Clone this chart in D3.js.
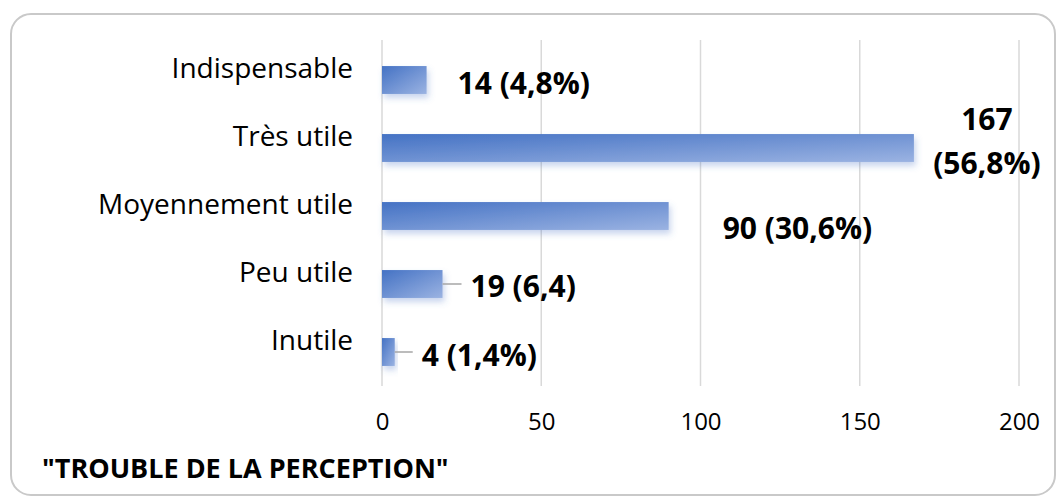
<!DOCTYPE html>
<html>
<head>
<meta charset="utf-8">
<script src="https://cdn.jsdelivr.net/npm/d3@7"></script>
<style>
  body { margin: 0; background: #fff; }
  text { font-family: "Open Sans", sans-serif; fill: #000; }
</style>
</head>
<body>
<div id="chart"></div>
<script>
// data
var categories = ["Indispensable", "Très utile", "Moyennement utile", "Peu utile", "Inutile"];
var counts = [14, 167, 90, 19, 4];
var valueLabels = [["14 (4,8%)"], ["167", "(56,8%)"], ["90 (30,6%)"], ["19 (6,4)"], ["4 (1,4%)"]];
var tickValues = [0, 50, 100, 150, 200];
var chartTitle = '"TROUBLE DE LA PERCEPTION"';

// label placement (dx from bar end, dy from bar centre, leader line?)
var labelPlace = [
    {dx: 31, dy: 2, leader: false},
    {dx: 73, dy: -8, leader: false, centre: true},
    {dx: 54, dy: 11, leader: false},
    {dx: 28, dy: 1, leader: true},
    {dx: 27, dy: 2, leader: true}
];

var W = 1060, H = 502;
var plot = {left: 382, right: 1019, top: 46, bottom: 386};

var svg = d3.select("#chart").append("svg")
    .attr("width", W)
    .attr("height", H);

var defs = svg.append("defs");
var grad = defs.append("linearGradient")
    .attr("id", "barGrad")
    .attr("x1", 0).attr("y1", 0).attr("x2", 1).attr("y2", 1);
grad.append("stop").attr("offset", "0%").attr("stop-color", "#4472c4");
grad.append("stop").attr("offset", "100%").attr("stop-color", "#9bb3e2");

var shadow = defs.append("filter").attr("id", "shadow")
    .attr("x", "-10%").attr("y", "-20%").attr("width", "130%").attr("height", "180%");
shadow.append("feDropShadow")
    .attr("dx", 2).attr("dy", 4).attr("stdDeviation", 3)
    .attr("flood-color", "#4472c4").attr("flood-opacity", 0.3);

// frame
svg.append("rect")
    .attr("x", 11).attr("y", 14)
    .attr("width", 1044).attr("height", 481)
    .attr("rx", 20).attr("ry", 20)
    .attr("fill", "#fff")
    .attr("stroke", "#c9c9c9")
    .attr("stroke-width", 2);

var x = d3.scaleLinear().domain([0, 200]).range([plot.left, plot.right]);
var y = d3.scaleBand().domain(categories).range([plot.top, plot.bottom]).paddingInner(0.59).paddingOuter(0.295);

// gridlines
svg.append("g").selectAll("line")
    .data(tickValues)
    .enter().append("line")
    .attr("x1", function (d) { return x(d); })
    .attr("x2", function (d) { return x(d); })
    .attr("y1", 40)
    .attr("y2", plot.bottom)
    .attr("stroke", "#d9d9d9")
    .attr("stroke-width", 1.5);

// x axis
var xAxis = svg.append("g")
    .attr("transform", "translate(0," + plot.bottom + ")")
    .call(d3.axisBottom(x).tickValues(tickValues).tickSize(0).tickPadding(27));
xAxis.select(".domain").remove();
xAxis.selectAll("text")
    .style("font-family", "'Open Sans', sans-serif")
    .style("font-size", "24px")
    .attr("fill", "#000");

// category labels
svg.append("g").selectAll("text")
    .data(categories)
    .enter().append("text")
    .attr("x", 353)
    .attr("y", function (d) { return y(d) + y.bandwidth() / 2 - 13; })
    .attr("text-anchor", "end")
    .attr("dominant-baseline", "central")
    .style("font-size", "28px")
    .text(function (d) { return d; });

// bars
svg.append("g").selectAll("rect")
    .data(counts)
    .enter().append("rect")
    .attr("x", x(0))
    .attr("y", function (d, i) { return y(categories[i]); })
    .attr("width", function (d) { return x(d) - x(0); })
    .attr("height", y.bandwidth())
    .attr("fill", "url(#barGrad)")
    .attr("filter", "url(#shadow)");

// leader lines
svg.append("g").selectAll("line")
    .data(counts.map(function (d, i) { return {v: d, i: i}; }).filter(function (d) { return labelPlace[d.i].leader; }))
    .enter().append("line")
    .attr("x1", function (d) { return x(d.v); })
    .attr("x2", function (d) { return x(d.v) + labelPlace[d.i].dx - 9; })
    .attr("y1", function (d) { return y(categories[d.i]) + y.bandwidth() / 2; })
    .attr("y2", function (d) { return y(categories[d.i]) + y.bandwidth() / 2; })
    .attr("stroke", "#a6a6a6")
    .attr("stroke-width", 1.5);

// value labels
var vl = svg.append("g").selectAll("text")
    .data(counts)
    .enter().append("text")
    .attr("text-anchor", function (d, i) { return labelPlace[i].centre ? "middle" : "start"; })
    .attr("x", function (d, i) { return x(d) + labelPlace[i].dx; })
    .attr("y", function (d, i) {
        var lines = valueLabels[i].length;
        return y(categories[i]) + y.bandwidth() / 2 + labelPlace[i].dy - (lines - 1) * 22;
    })
    .attr("dominant-baseline", "central")
    .style("font-size", "30px")
    .style("font-weight", "bold");
vl.each(function (d, i) {
    var t = d3.select(this);
    valueLabels[i].forEach(function (s, k) {
        t.append("tspan")
            .attr("x", x(d) + labelPlace[i].dx)
            .attr("dy", k === 0 ? 0 : 44)
            .text(s);
    });
});

// title
svg.append("text")
    .attr("x", 42)
    .attr("y", 467)
    .attr("dominant-baseline", "central")
    .style("font-size", "27px")
    .style("font-weight", "bold")
    .text(chartTitle);
</script>
</body>
</html>
